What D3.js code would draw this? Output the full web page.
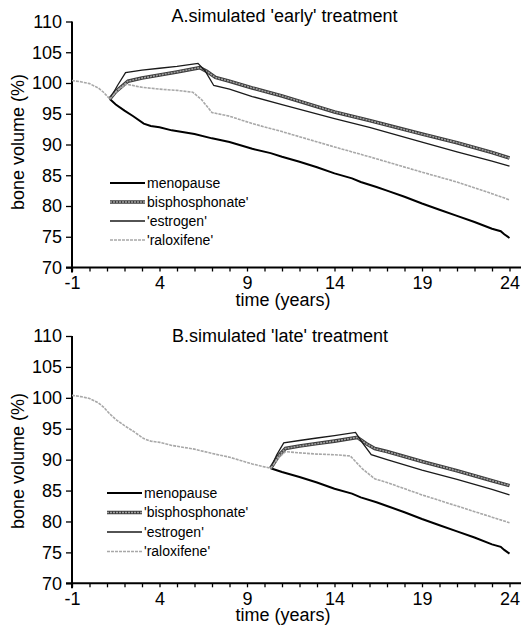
<!DOCTYPE html>
<html>
<head>
<meta charset="utf-8">
<script src="https://cdn.jsdelivr.net/npm/d3@7"></script>
<style>
  body { margin: 0; background: #fff; }
  svg { display: block; font-family: "Liberation Sans", Arial, sans-serif; }
</style>
</head>
<body>
<div id="chart"></div>
<script>
//Axis values
const yTicks = [70, 75, 80, 85, 90, 95, 100, 105, 110];
const yearTicks = d3.range(-1, 25);
const yearLabels = [-1, 4, 9, 14, 19, 24];

//Start of treatment (years) in each simulation
const branchEarly = 1.16;
const branchLate = 10.35;

//Untreated curve [year, bone volume %]
const menopause = [
  [-1, 100.4], [-0.5, 100.2], [0, 99.9], [0.5, 99.2], [0.8, 98.5], [1.16, 97.4],
  [1.5, 96.5], [2, 95.5], [2.5, 94.6], [3.1, 93.4], [3.5, 93.0], [4, 92.8],
  [4.7, 92.3], [6, 91.7], [7, 91.0], [8, 90.4], [9.3, 89.3], [10.35, 88.6],
  [11, 88.0], [12, 87.2], [13, 86.3], [14, 85.3], [15, 84.5], [15.5, 83.9],
  [16.4, 83.1], [17, 82.5], [18, 81.5], [19, 80.4], [20, 79.4], [21, 78.4],
  [22, 77.4], [23, 76.3], [23.5, 75.9], [23.7, 75.4], [24, 74.8]
];

//A. early treatment
const bisphosEarly = [
  [1.16, 97.4], [1.5, 98.6], [2.2, 100.3], [3, 100.8], [4, 101.3], [5, 101.8],
  [6.3, 102.5], [6.7, 101.9], [7.2, 100.9], [8, 100.3], [9.3, 99.2], [11, 97.9],
  [14, 95.3], [16, 93.9], [19, 91.7], [21, 90.3], [23, 88.7], [24, 87.8]
];
const estrogenEarly = [
  [1.16, 97.4], [1.6, 99.6], [2.06, 101.7], [3, 102.1], [4, 102.4], [5, 102.7],
  [6.2, 103.2], [6.6, 102.0], [7.1, 99.6], [8, 99.0], [9.3, 97.8], [11, 96.5],
  [14, 94.2], [16, 92.8], [19, 90.4], [21, 88.8], [23, 87.3], [24, 86.5]
];
const raloxEarly = [
  [1.16, 97.4], [1.6, 98.8], [2.1, 99.8], [3, 99.3], [4, 99.0], [5, 98.8],
  [5.9, 98.5], [6.4, 97.3], [7.0, 95.2], [8, 94.6], [9.3, 93.4], [11, 92.1],
  [14, 89.6], [16, 88.0], [19, 85.5], [21, 83.9], [23, 82.0], [24, 81.0]
];

//B. late treatment
const bisphosLate = [
  [10.35, 88.6], [10.8, 90.6], [11.2, 91.8], [12, 92.2], [13, 92.6], [14, 93.0],
  [15.3, 93.6], [15.8, 92.6], [16.3, 91.8], [17, 91.3], [19, 89.7], [21, 88.2],
  [23, 86.6], [24, 85.8]
];
const estrogenLate = [
  [10.35, 88.6], [10.7, 90.8], [11.1, 92.7], [12, 93.1], [13, 93.5], [14, 93.9],
  [15.2, 94.4], [15.6, 92.7], [16.1, 90.8], [17, 90.0], [19, 88.3], [21, 86.8],
  [23, 85.2], [24, 84.3]
];
const raloxLate = [
  [10.35, 88.6], [10.8, 90.3], [11.2, 91.3], [12, 91.1], [13, 90.9], [14, 90.8],
  [14.9, 90.6], [15.6, 88.5], [16.3, 86.9], [17, 86.3], [19, 84.3], [21, 82.5],
  [23, 80.7], [24, 79.8]
];

const labelsEarly = ["menopause", "bisphosphonate'", "'estrogen'", "'raloxifene'"];
const labelsLate = ["menopause", "'bisphosphonate'", "'estrogen'", "'raloxifene'"];

//////////////////////////////////////////////////

const WIDTH = 521;
const HEIGHT = 639;

//Line styles, one per series (menopause, bisphosphonate, estrogen, raloxifene)
function drawStyled(g, kind, d) {
  if (kind == 0) {
    g.append("path").attr("d", d).attr("fill", "none")
     .attr("stroke", "#000").attr("stroke-width", 2);
  } else if (kind == 1) {
    g.append("path").attr("d", d).attr("fill", "none")
     .attr("stroke", "#3c3c3c").attr("stroke-width", 3.6);
    g.append("path").attr("d", d).attr("fill", "none")
     .attr("stroke", "#a0a0a0").attr("stroke-width", 1.6)
     .attr("stroke-dasharray", "2,1");
  } else if (kind == 2) {
    g.append("path").attr("d", d).attr("fill", "none")
     .attr("stroke", "#1a1a1a").attr("stroke-width", 1.3);
  } else {
    g.append("path").attr("d", d).attr("fill", "none")
     .attr("stroke", "#a8a8a8").attr("stroke-width", 1.6)
     .attr("stroke-dasharray", "3,1");
  }
}

function drawPanel(svg, p) {
  var x = d3.scaleLinear().domain([-1, 24]).range([72, 509.5]);
  var y = d3.scaleLinear().domain([70, 110]).range([p.bottom, p.top]);
  var line = d3.line().x(d => x(d[0])).y(d => y(d[1]));

  var g = svg.append("g");

  //Axes
  var yAxis = g.append("g").attr("transform", "translate(72,0)")
    .call(d3.axisLeft(y).tickValues(yTicks).tickSize(6).tickPadding(4).tickSizeOuter(0));
  yAxis.select(".domain").remove();
  yAxis.selectAll("line").attr("stroke", "#000").attr("stroke-width", 1.3);
  yAxis.selectAll("text").attr("font-size", 18).attr("fill", "#000");

  var xAxis = g.append("g").attr("transform", "translate(0," + p.bottom + ")")
    .call(d3.axisBottom(x).tickValues(yearTicks).tickSize(4).tickPadding(5).tickSizeOuter(0)
      .tickFormat(d => yearLabels.includes(d) ? d : ""));
  xAxis.select(".domain").remove();
  xAxis.selectAll("line").attr("stroke", "#000").attr("stroke-width", 1.3);
  xAxis.selectAll("text").attr("font-size", 18).attr("fill", "#000");

  g.append("line").attr("x1", 66).attr("x2", WIDTH).attr("y1", p.bottom).attr("y2", p.bottom)
   .attr("stroke", "#000").attr("stroke-width", 2);
  g.append("line").attr("x1", 72).attr("x2", 72).attr("y1", p.top).attr("y2", p.bottom + 5)
   .attr("stroke", "#000").attr("stroke-width", 2);

  //Titles
  g.append("text").attr("x", p.titleX).attr("y", p.titleY).attr("text-anchor", "middle")
   .attr("font-size", 18).text(p.title);
  g.append("text").attr("x", 283).attr("y", p.bottom + 38).attr("text-anchor", "middle")
   .attr("font-size", 18).text("time (years)");
  g.append("text").attr("transform", "translate(24," + p.yLabelY + ") rotate(-90)")
   .attr("text-anchor", "middle").attr("font-size", 18).text("bone volume (%)");

  //Series: untreated part first, then treatments, shared pre-treatment segment on top
  var after = menopause.filter(d => d[0] >= p.branch);
  var before = menopause.filter(d => d[0] <= p.branch);
  drawStyled(g, 0, line(after));
  drawStyled(g, 1, line(p.series[0]));
  drawStyled(g, 2, line(p.series[1]));
  drawStyled(g, 3, line(p.series[2]));
  drawStyled(g, 3, line(before));

  //Legend
  for (var i = 0; i < p.labels.length; i++) {
    var ly = p.legendY + i * p.legendStep;
    drawStyled(g, i, "M" + p.legendX + "," + ly + "H" + (p.legendX + 35));
    g.append("text").attr("x", p.legendX + 37).attr("y", ly).attr("dy", "0.35em")
     .attr("font-size", 14).text(p.labels[i]);
  }
}

window.onload = function() {
  var svg = d3.select("#chart").append("svg")
              .attr("width", WIDTH)
              .attr("height", HEIGHT);

  drawPanel(svg, {
    top: 21.5, bottom: 267.5, branch: branchEarly,
    series: [bisphosEarly, estrogenEarly, raloxEarly], labels: labelsEarly,
    title: "A.simulated 'early' treatment", titleX: 284.5, titleY: 21.5,
    yLabelY: 142, legendX: 110, legendY: 183, legendStep: 19
  });
  drawPanel(svg, {
    top: 336, bottom: 583.3, branch: branchLate,
    series: [bisphosLate, estrogenLate, raloxLate], labels: labelsLate,
    title: "B.simulated 'late' treatment", titleX: 280, titleY: 342,
    yLabelY: 461, legendX: 107, legendY: 493, legendStep: 19.5
  });
}
</script>
</body>
</html>
